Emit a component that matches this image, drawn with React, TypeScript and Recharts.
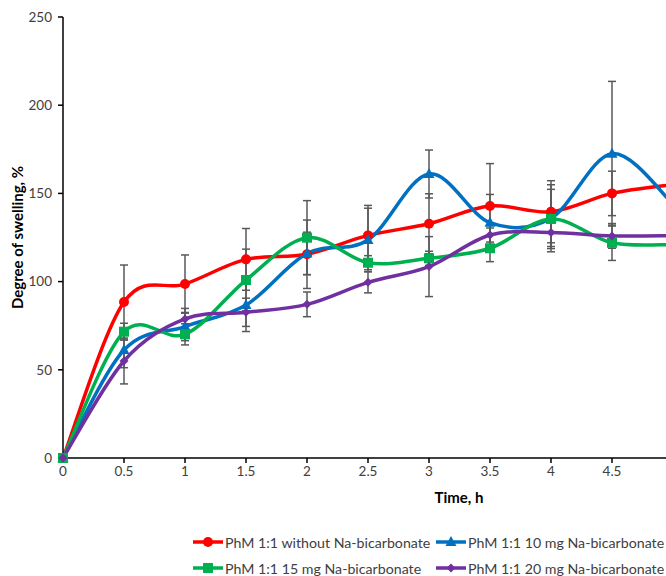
import { LineChart, Line, XAxis, YAxis, ErrorBar, Legend } from 'recharts'

// time points, h
const times = [0, 0.5, 1, 1.5, 2, 2.5, 3, 3.5, 4, 4.5, 5]

// degree of swelling, %
const noBicarb = [0, 88.4, 98.6, 112.6, 115.5, 126.2, 132.8, 142.9, 139.6, 150.0, 155]
const noBicarbErr = [0, 21, 16.5, 17.5, 19.4, 17, 17, 24, 17.6, 12.6, 0]
const bicarb10 = [0, 61.2, 74.5, 86.7, 116, 123.6, 161, 133.4, 135.9, 172.5, 144]
const bicarb10Err = [0, 10, 8, 15, 12, 18, 13.6, 16, 19, 41, 0]
const bicarb15 = [0, 71.6, 70.1, 100.9, 124.9, 110.7, 113.2, 118.9, 135.5, 122, 121]
const bicarb15Err = [0, 4.8, 6, 17.5, 21, 4, 4, 7.6, 16.8, 10, 0]
const bicarb20 = [0, 55, 78.8, 82.6, 87.1, 99.6, 108.5, 126.4, 127.9, 125.9, 126]
const bicarb20Err = [0, 13, 6, 8, 7, 6, 17, 4, 8, 7, 0]

const xTicks = [0, 0.5, 1, 1.5, 2, 2.5, 3, 3.5, 4, 4.5]
const yTicks = [0, 50, 100, 150, 200, 250]

const data = times.map((t, i) => ({
  t,
  a: noBicarb[i],
  aErr: noBicarbErr[i],
  b: bicarb10[i],
  bErr: bicarb10Err[i],
  c: bicarb15[i],
  cErr: bicarb15Err[i],
  d: bicarb20[i],
  dErr: bicarb20Err[i],
}))

const series = [
  { key: 'a', name: 'PhM 1:1 without Na-bicarbonate', color: '#FF0000', marker: 'circle' },
  { key: 'b', name: 'PhM 1:1 10 mg Na-bicarbonate', color: '#0070C0', marker: 'triangle' },
  { key: 'c', name: 'PhM 1:1 15 mg Na-bicarbonate', color: '#00B050', marker: 'square' },
  { key: 'd', name: 'PhM 1:1 20 mg Na-bicarbonate', color: '#7030A0', marker: 'diamond' },
]

const FONT = 'Lato, "Open Sans", sans-serif'

// Excel-like smoothed line (Catmull-Rom through every point)
function excelCurve(context: any) {
  let pts: number[][] = []
  return {
    areaStart() {},
    areaEnd() {},
    lineStart() {
      pts = []
    },
    point(x: number, y: number) {
      pts.push([+x, +y])
    },
    lineEnd() {
      if (!pts.length) return
      context.moveTo(pts[0][0], pts[0][1])
      for (let i = 0; i < pts.length - 1; i++) {
        const p0 = pts[i - 1] || pts[i]
        const p1 = pts[i]
        const p2 = pts[i + 1]
        const p3 = pts[i + 2] || pts[i + 1]
        context.bezierCurveTo(
          p1[0] + (p2[0] - p0[0]) / 6,
          p1[1] + (p2[1] - p0[1]) / 6,
          p2[0] - (p3[0] - p1[0]) / 6,
          p2[1] - (p3[1] - p1[1]) / 6,
          p2[0],
          p2[1]
        )
      }
    },
  }
}

function Marker({ cx, cy, type, color }: { cx: number; cy: number; type: string; color: string }) {
  if (cx == null || cy == null) return null
  if (type === 'circle') return <circle cx={cx} cy={cy} r={5} fill={color} />
  if (type === 'square') return <rect x={cx - 5} y={cy - 5} width={10} height={10} fill={color} />
  if (type === 'triangle')
    return <polygon points={`${cx},${cy - 6} ${cx + 5.5},${cy + 4} ${cx - 5.5},${cy + 4}`} fill={color} />
  return <polygon points={`${cx},${cy - 4.5} ${cx + 4.5},${cy} ${cx},${cy + 4.5} ${cx - 4.5},${cy}`} fill={color} />
}

function LegendContent() {
  const item = (s: (typeof series)[number]) => (
    <div key={s.key} style={{ display: 'flex', alignItems: 'center', height: 26 }}>
      <svg width={32} height={12} style={{ marginRight: 1 }}>
        <line x1={1} y1={6} x2={31} y2={6} stroke={s.color} strokeWidth={3.5} />
        <Marker cx={16} cy={6} type={s.marker} color={s.color} />
      </svg>
      <span style={{ fontFamily: FONT, fontSize: 14.2, color: '#404040', whiteSpace: 'nowrap' }}>{s.name}</span>
    </div>
  )
  return (
    <div style={{ display: 'grid', gridTemplateColumns: '243px 230px', marginLeft: 192, marginTop: 3 }}>
      {series.map(item)}
    </div>
  )
}

export default function App() {
  return (
    <div
      style={{
        position: 'fixed',
        left: 0,
        top: 0,
        width: 666,
        height: 576,
        overflow: 'hidden',
        background: '#fff',
      }}
    >
      <LineChart width={700} height={576} data={data} margin={{ top: 17, right: 27, left: 0, bottom: 0 }}>
        <XAxis
          dataKey="t"
          type="number"
          domain={[0, 5]}
          ticks={xTicks}
          tickSize={5}
          tickMargin={3}
          height={68}
          axisLine={{ stroke: '#000', strokeWidth: 1.5 }}
          tickLine={{ stroke: '#000', strokeWidth: 1.5 }}
          tick={{ fill: '#404040', fontSize: 13.5, fontFamily: FONT }}
          label={{
            value: 'Time, h',
            position: 'insideBottom',
            dx: 91,
            offset: 23,
            style: { fontFamily: FONT, fontSize: 15, fontWeight: 700, fill: '#000' },
          }}
        />
        <YAxis
          type="number"
          domain={[0, 250]}
          ticks={yTicks}
          width={63}
          tickSize={5}
          tickMargin={6}
          axisLine={{ stroke: '#000', strokeWidth: 1.5 }}
          tickLine={{ stroke: '#000', strokeWidth: 1.5 }}
          tick={{ fill: '#404040', fontSize: 13.5, fontFamily: FONT }}
          label={{
            value: 'Degree of swelling, %',
            angle: -90,
            position: 'insideLeft',
            offset: 18,
            style: { textAnchor: 'middle', fontFamily: FONT, fontSize: 15, fontWeight: 700, fill: '#000' },
          }}
        />
        <Legend verticalAlign="bottom" height={50} content={<LegendContent />} />
        {series.map((s) => (
          <Line
            key={s.key}
            dataKey={s.key}
            name={s.name}
            type={excelCurve as any}
            stroke={s.color}
            strokeWidth={3.5}
            isAnimationActive={false}
            dot={(p: any) => <Marker key={`${s.key}-${p.index}`} cx={p.cx} cy={p.cy} type={s.marker} color={s.color} />}
            activeDot={false}
          >
            <ErrorBar dataKey={`${s.key}Err`} direction="y" width={4} stroke="#595959" strokeWidth={1.5} />
          </Line>
        ))}
      </LineChart>
    </div>
  )
}
